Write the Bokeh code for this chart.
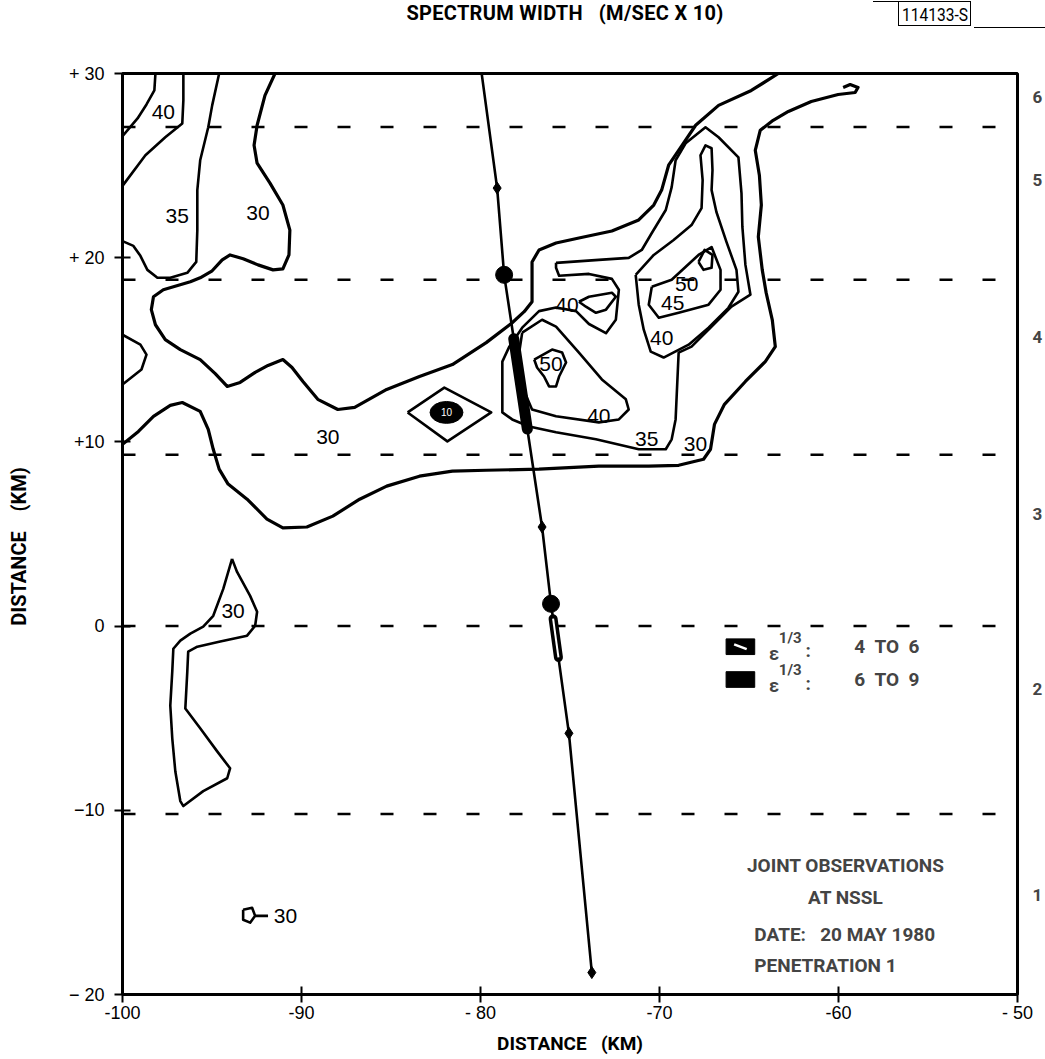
import numpy as np
from bokeh.plotting import figure
from bokeh.models import Range1d, FixedTicker, Label, LinearAxis, Div
from bokeh.layouts import column
from bokeh.embed import file_html
from bokeh.resources import INLINE
from bokeh.core.properties import value

# ---------------- data (km) ----------------
x_ticks = [-100, -90, -80, -70, -60, -50]
y_ticks = [30, 20, 10, 0, -10, -20]
y_tick_labels = {30: "+ 30", 20: "+ 20", 10: "+10", 0: "0", -10: "\u221210", -20: "\u2212 20"}
x_tick_labels = {-100: "-100", -90: "-90", -80: "- 80", -70: "-70", -60: "-60", -50: "- 50"}

dash_y = [27.1, 18.8, 9.3, 0.0, -10.2]
right_nums = ["6", "5", "4", "3", "2", "1"]
right_nums_y = [28.7, 24.2, 15.7, 6.1, -3.4, -14.6]

# contours (km)
c1_x = [-98.16, -98.22, -98.66, -99.16, -100.0]
c1_y = [30.0, 29.08, 28.32, 27.56, 26.6]
c2_x = [-96.60, -96.60, -96.66, -97.61, -98.72, -100.0]
c2_y = [30.0, 28.54, 27.29, 26.54, 25.56, 23.9]
c3_x = [-94.60, -94.99, -95.21, -95.66, -95.82, -95.82, -95.88, -96.38, -97.33, -98.05, -98.61, -99.00, -99.39, -100.0]
c3_y = [30.0, 28.27, 27.08, 25.29, 23.67, 21.50, 19.77, 19.18, 18.91, 18.91, 19.34, 20.10, 20.64, 20.9]
c4_x = [-91.48, -92.04, -92.48, -92.65, -92.48, -91.76, -91.04, -90.65, -90.70, -91.04, -91.59, -92.43,
        -93.26, -93.99, -94.43, -94.99, -95.66, -96.21, -97.72, -98.27, -98.39, -98.16, -97.61, -96.77,
        -95.66, -94.82, -94.15, -93.43, -92.59, -91.87, -91.04, -90.53, -89.92, -89.09, -87.97, -87.03,
        -85.24, -83.41, -81.57, -79.68, -78.23, -77.56, -77.12, -77.12, -77.12, -76.73, -75.78, -74.50,
        -72.66, -71.16, -70.32, -69.88, -69.49, -68.93, -67.98, -66.70, -64.87, -63.36]
c4_y = [30.0, 28.81, 27.19, 26.10, 25.13, 24.05, 22.86, 21.50, 20.15, 19.39, 19.34, 19.61,
        19.94, 20.15, 19.88, 19.29, 18.91, 18.69, 18.26, 17.88, 17.18, 16.36, 15.55, 15.01,
        14.47, 13.71, 13.01, 13.23, 13.77, 14.15, 14.47, 14.04, 13.28, 12.31, 11.76, 11.87,
        12.85, 13.55, 14.20, 15.39, 16.47, 17.07, 17.61, 19.07, 19.77, 20.42, 20.80, 21.07,
        21.45, 22.05, 22.86, 23.67, 25.02, 25.83, 27.19, 28.27, 29.08, 30.0]
c5_x = [-100.0, -99.00, -98.66, -98.94, -100.0]
c5_y = [15.82, 15.28, 14.74, 13.93, 13.12]
c6_x = [-100.0, -99.11, -98.27, -97.33, -96.66, -95.66, -95.21, -94.93, -94.60, -94.10, -93.04, -91.93,
        -91.04, -89.70, -88.25, -86.75, -85.24, -83.41, -81.57, -79.68, -76.73, -73.39, -70.60, -68.93,
        -67.54, -67.15, -66.93, -66.37, -65.20, -64.09, -63.53, -63.70, -64.04, -64.26, -64.48, -64.31,
        -64.42, -64.65, -64.37, -63.65, -62.80, -61.52, -60.02, -59.07, -58.91, -59.35, -59.74]
c6_y = [9.87, 10.57, 11.39, 11.98, 12.14, 11.66, 10.68, 9.60, 8.52, 7.71, 6.89, 5.81,
        5.33, 5.38, 5.97, 6.89, 7.60, 8.14, 8.41, 8.46, 8.52, 8.68, 8.68, 8.73,
        9.06, 9.60, 10.95, 12.04, 13.28, 14.36, 15.17, 16.63, 18.09, 19.34, 21.13, 22.86,
        24.48, 25.83, 26.92, 27.46, 27.94, 28.48, 28.86, 28.97, 29.24, 29.40, 29.24]
c7_x = [-75.78, -73.39, -71.72, -70.99, -70.43, -69.65, -69.32, -69.10, -68.54, -67.43, -66.70, -65.59,
        -65.42, -65.37, -65.20, -64.92, -65.98, -67.09, -68.21, -68.93, -69.10, -69.32, -69.65, -71.16,
        -73.55, -75.78, -77.28, -78.23, -78.78, -78.78, -78.39, -77.67, -76.73, -75.78, -74.66, -73.94,
        -72.99, -72.44, -72.27, -72.66, -73.94, -75.61, -75.78, -75.78]
c7_y = [19.72, 19.88, 19.99, 20.42, 21.34, 22.59, 23.83, 25.29, 26.21, 27.08, 26.54, 25.45,
        23.51, 21.67, 19.61, 17.99, 17.34, 16.26, 15.17, 14.85, 11.22, 10.14, 9.60, 9.60,
        10.14, 10.52, 10.84, 11.22, 11.60, 14.36, 15.17, 16.20, 17.10, 17.30, 17.10, 16.40,
        15.90, 16.63, 18.26, 18.85, 19.12, 19.02, 19.45, 19.72]
c8_x = [-71.33, -70.32, -69.21, -68.21, -67.65, -67.59, -67.71, -67.43, -67.09, -67.04, -67.09, -66.82,
        -66.26, -65.70, -65.59, -66.15, -67.26, -68.37, -69.77, -70.49, -70.88, -71.16, -71.33]
c8_y = [19.07, 20.15, 20.96, 21.77, 22.69, 24.21, 25.56, 26.10, 25.94, 24.75, 23.67, 22.48,
        20.86, 19.34, 18.15, 17.28, 16.20, 15.28, 14.58, 14.90, 16.09, 17.45, 19.07]
c9_x = [-70.43, -69.32, -67.82, -67.09, -66.59, -66.59, -67.26, -68.93, -70.04, -70.60, -70.43]
c9_y = [18.42, 18.80, 20.15, 20.58, 19.34, 18.26, 17.45, 17.01, 16.74, 17.45, 18.42]
c10_x = [-67.82, -67.48, -67.04, -67.09, -67.54, -67.82]
c10_y = [19.77, 20.42, 20.15, 19.45, 19.34, 19.77]
c12_x = [-74.50, -73.94, -72.66, -72.44, -72.99, -73.55, -74.11, -74.50]
c12_y = [17.61, 17.88, 18.10, 17.88, 17.18, 17.01, 17.34, 17.61]
c13_x = [-77.67, -76.56, -75.78, -74.50, -73.22, -71.88, -71.72, -72.27, -73.39, -75.78, -77.12, -77.67, -77.84, -77.67]
c13_y = [15.93, 16.63, 16.26, 14.85, 13.39, 12.31, 11.76, 11.22, 11.06, 11.39, 11.76, 13.01, 14.85, 15.93]
c14_x = [-77.00, -76.00, -75.44, -75.22, -75.61, -75.78, -76.17, -76.45, -76.84, -77.00]
c14_y = [14.47, 15.01, 14.85, 14.31, 13.55, 13.01, 13.01, 13.55, 14.04, 14.47]
c15_x = [-84.07, -82.02, -79.40, -81.85, -84.07]
c15_y = [11.60, 12.95, 11.60, 10.03, 11.60]
c16_x = [-93.88, -93.60, -92.87, -92.48, -92.59, -93.04, -94.54, -95.82, -96.33, -96.38, -96.49, -95.66,
         -94.71, -93.99, -94.15, -95.49, -96.60, -96.77, -97.05, -97.22, -97.33, -97.22, -97.16, -96.77,
         -96.21, -95.49, -94.93, -94.37, -93.88]
c16_y = [3.65, 2.94, 1.64, 0.78, 0.02, -0.52, -0.84, -1.12, -1.39, -2.47, -4.47, -5.55,
         -6.80, -7.72, -8.26, -8.96, -9.77, -9.50, -7.88, -6.09, -4.31, -2.47, -1.23, -0.79,
         -0.41, -0.03, 0.56, 2.02, 3.65]
c17_x = [-93.26, -92.76, -92.59, -92.87, -93.26, -93.26]
c17_y = [-15.40, -15.29, -15.73, -16.10, -15.94, -15.40]
c17_tail_x = [-92.59, -91.87]
c17_tail_y = [-15.73, -15.73]

# blob (eps^1/3 > 6) inside the small diamond
blob_x, blob_y, blob_w, blob_h = -81.90, 11.60, 1.84, 1.19

# contour labels
lab_text = ["40", "35", "30", "40", "45", "50", "40", "50", "40", "35", "30", "30", "30", "30"]
lab_x = [-97.72, -96.94, -92.43, -75.17, -69.26, -68.48, -69.88, -76.06, -73.39, -70.71, -67.99, -88.53, -93.82, -90.90]
lab_y = [27.89, 22.26, 22.42, 17.45, 17.55, 18.58, 15.66, 14.25, 11.39, 10.14, 9.87, 10.25, 0.83, -15.73]

# aircraft track
track_x = [-80.07, -79.07, -78.68, -76.56, -76.06, -75.06, -73.78]
track_y = [30.97, 23.78, 19.07, 5.38, 1.21, -5.82, -18.81]
track_small = [0, 1, 3, 5, 6]
track_big = [2, 4]
strong_y = [15.6, 10.7]     # eps^1/3 6 to 9
medium_y = [0.4, -1.7]      # eps^1/3 4 to 6

# legend
legend_y = [-1.12, -2.90]
legend_text = ["4 TO 6", "6 TO 9"]

# ---------------- figure ----------------
FONT_B = "Roboto"
FONT_L = "Liberation Sans"
NB = "\u00a0"
HEAD_H = 30
p = figure(width=1045, height=1057 - HEAD_H, x_range=Range1d(-100, -50), y_range=Range1d(-20, 30),
           output_backend="svg", toolbar_location=None,
           min_border_left=122, min_border_right=25, min_border_top=73 - HEAD_H, min_border_bottom=60)
p.grid.visible = False
p.outline_line_color = "black"
p.outline_line_width = 3
p.background_fill_color = "white"

for ax in (p.xaxis[0], p.yaxis[0]):
    ax.axis_line_width = 3
    ax.major_tick_line_width = 2
    ax.major_tick_in = 8
    ax.major_tick_out = 8
    ax.minor_tick_line_color = None
    ax.major_label_text_font = FONT_L
    ax.major_label_text_font_size = "18px"
    ax.major_label_text_color = "black"
    ax.axis_label_text_font = FONT_B
    ax.axis_label_text_font_style = "bold"
    ax.axis_label_text_color = "black"
p.xaxis.axis_label_text_font_size = "19px"
p.yaxis.axis_label_text_font_size = "20px"
p.xaxis.ticker = FixedTicker(ticks=x_ticks)
p.yaxis.ticker = FixedTicker(ticks=y_ticks)
p.xaxis.major_label_overrides = x_tick_labels
p.yaxis.major_label_overrides = y_tick_labels
p.xaxis.major_label_standoff = 0
p.yaxis.major_label_standoff = 10
p.xaxis.axis_label = "DISTANCE" + NB * 3 + "(KM)"
p.yaxis.axis_label = "DISTANCE" + NB * 4 + "(KM)" + NB * 5
p.xaxis.axis_label_standoff = 6
p.yaxis.axis_label_standoff = 35

# right-hand numbers
rax = LinearAxis(ticker=FixedTicker(ticks=right_nums_y),
                 major_label_overrides=dict(zip(right_nums_y, right_nums)),
                 axis_line_color=None, major_tick_line_color=None, minor_tick_line_color=None,
                 major_label_standoff=9, major_label_text_font=FONT_B,
                 major_label_text_font_style="bold", major_label_text_font_size="17px")
p.add_layout(rax, "right")

# dashed reference lines
p.segment(x0=[-100] * len(dash_y), x1=[-50] * len(dash_y), y0=dash_y, y1=dash_y,
          line_color="black", line_width=2.5, line_dash="13 30")

thick = [(c4_x, c4_y), (c6_x, c6_y)]
thin = [(c1_x, c1_y), (c2_x, c2_y), (c3_x, c3_y), (c5_x, c5_y), (c7_x, c7_y), (c8_x, c8_y),
        (c9_x, c9_y), (c10_x, c10_y), (c12_x, c12_y), (c13_x, c13_y), (c14_x, c14_y),
        (c15_x, c15_y), (c16_x, c16_y), (c17_x, c17_y), (c17_tail_x, c17_tail_y)]
p.multi_line(xs=[c[0] for c in thick], ys=[c[1] for c in thick], line_color="black",
             line_width=3.2, line_join="round")
p.multi_line(xs=[c[0] for c in thin], ys=[c[1] for c in thin], line_color="black",
             line_width=2.6, line_join="round")

p.ellipse(x=[blob_x], y=[blob_y], width=blob_w, height=blob_h, fill_color="black", line_color="black")
p.text(x=[blob_x], y=[blob_y], text=["10"], text_color="white", text_font=value(FONT_L),
       text_font_size="10px", text_align="center", text_baseline="middle")

p.text(x=lab_x, y=lab_y, text=lab_text, text_font=value(FONT_L), text_font_size="21px",
       text_align="center", text_baseline="middle", text_color="black")

# track
p.line(track_x, track_y, line_color="black", line_width=2.6)
p.scatter([track_x[i] for i in track_small], [track_y[i] for i in track_small], marker="diamond",
          size=12, fill_color="black", line_color="black")
p.scatter([track_x[i] for i in track_big], [track_y[i] for i in track_big], marker="circle",
          size=17, fill_color="black", line_color="black")
ty = np.array(track_y[::-1]); tx = np.array(track_x[::-1])
sx = np.interp(strong_y, ty, tx)
p.line(sx, strong_y, line_color="black", line_width=11, line_cap="round")
mx = np.interp(medium_y, ty, tx)
p.line(mx, medium_y, line_color="black", line_width=9, line_cap="round")
p.line(mx, medium_y, line_color="white", line_width=2)

# legend
lx = -65.48
p.rect(x=[lx, lx], y=legend_y, width=1.6, height=0.85, fill_color="black", line_color="black")
p.segment(x0=[lx - 0.35], y0=[legend_y[0] + 0.13], x1=[lx + 0.35], y1=[legend_y[0] - 0.13],
          line_color="white", line_width=2.5)
for ly, lt in zip(legend_y, legend_text):
    p.add_layout(Label(x=-63.6, y=ly - 0.35, text="\u03b5", text_font=FONT_B, text_font_style="bold",
                       text_font_size="18px", text_align="center", text_baseline="middle"))
    p.add_layout(Label(x=-62.7, y=ly + 0.5, text="1/3", text_font=FONT_B, text_font_style="bold",
                       text_font_size="15px", text_align="center", text_baseline="middle"))
    p.add_layout(Label(x=-61.7, y=ly - 0.2, text=":", text_font=FONT_B, text_font_style="bold",
                       text_font_size="19px", text_align="center", text_baseline="middle"))
    p.add_layout(Label(x=-57.3, y=ly, text=lt.replace(" ", NB + NB), text_font=FONT_B,
                       text_font_style="bold", text_font_size="19px", text_align="center",
                       text_baseline="middle"))

# annotation block
ann_font = dict(text_font=FONT_B, text_font_style="bold", text_font_size="19px", text_baseline="middle")
p.add_layout(Label(x=-59.6, y=-13.0, text="JOINT OBSERVATIONS", text_align="center", **ann_font))
p.add_layout(Label(x=-59.6, y=-14.75, text="AT NSSL", text_align="center", **ann_font))
p.add_layout(Label(x=-64.7, y=-16.75, text="DATE:" + NB * 3 + "20 MAY 1980", text_align="left", **ann_font))
p.add_layout(Label(x=-64.7, y=-18.45, text="PENETRATION 1", text_align="left", **ann_font))

# header: title and figure number box
title_text = "SPECTRUM WIDTH&nbsp;&nbsp;&nbsp;(M/SEC X 10)"
box_text = "114133-S"
header_html = (
    '<div style="position:relative;width:1045px;height:%dpx;font-family:Roboto,sans-serif;color:black;">'
    '<span style="position:absolute;left:565px;top:-1px;transform:translateX(-50%%);white-space:nowrap;'
    'font-weight:bold;font-size:20px;letter-spacing:0.3px;">%s</span>'
    '<span style="position:absolute;left:873px;top:1px;width:25px;border-top:1.5px solid black;"></span>'
    '<span style="position:absolute;left:898px;top:1px;width:73px;height:25px;border:1.5px solid black;'
    'overflow:hidden;"><span style="position:absolute;left:50%%;top:1px;transform:translateX(-50%%) scaleX(0.82);'
    'font-size:19px;line-height:23px;white-space:nowrap;">%s</span></span>'
    '<span style="position:absolute;left:974px;top:27px;width:71px;border-top:1.5px solid black;"></span>'
    '</div>' % (HEAD_H, title_text, box_text)
)
header = Div(text=header_html, width=1045, height=HEAD_H, margin=(0, 0, 0, 0))

layout = column(header, p, spacing=0)
open("out.html", "w").write(file_html(layout, INLINE))
